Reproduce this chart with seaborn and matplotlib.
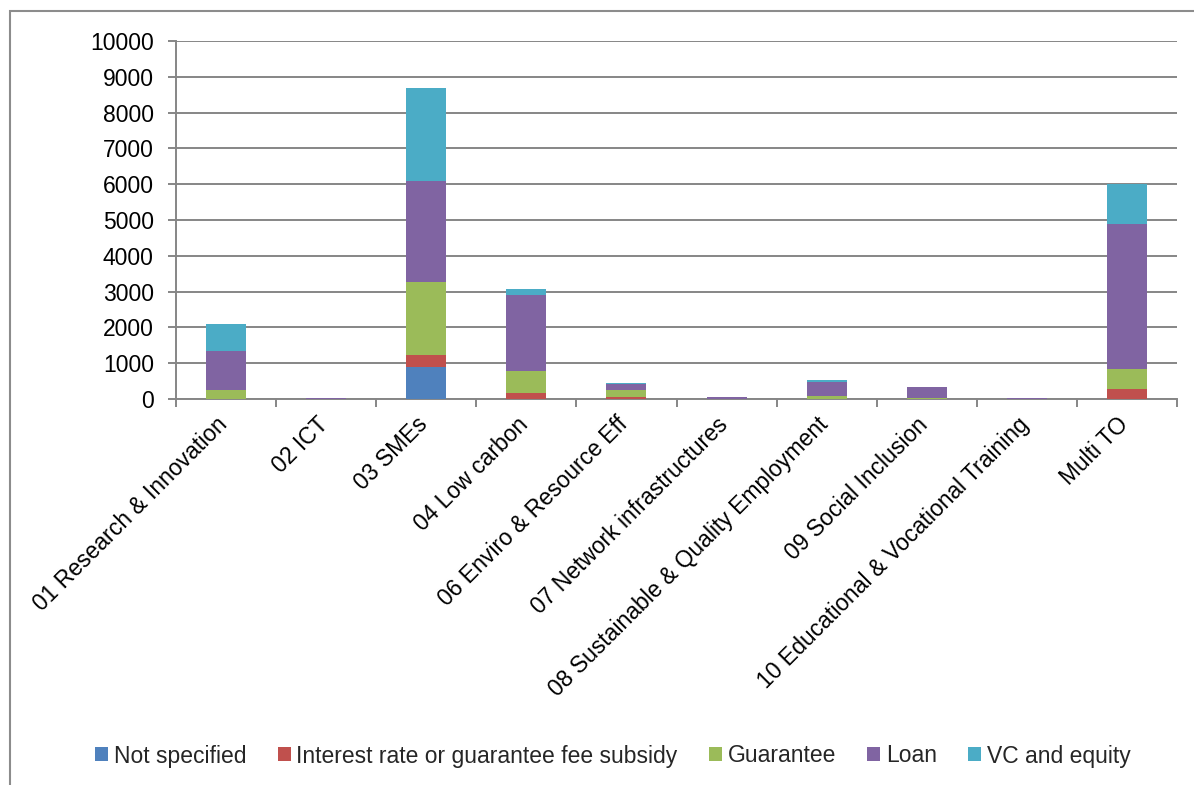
import matplotlib
matplotlib.use("Agg")
import matplotlib.pyplot as plt
import seaborn as sns
import pandas as pd
import numpy as np
from matplotlib.patches import Rectangle, Patch

categories = ["01 Research & Innovation", "02 ICT", "03 SMEs", "04 Low carbon",
              "06 Enviro & Resource Eff", "07 Network infrastructures",
              "08 Sustainable & Quality Employment", "09 Social Inclusion",
              "10 Educational & Vocational Training", "Multi TO"]
not_specified = [0, 0, 890, 0, 0, 0, 0, 0, 0, 0]
interest_subsidy = [0, 0, 340, 170, 50, 0, 0, 0, 0, 280]
guarantee = [265, 0, 2030, 600, 190, 0, 75, 40, 0, 570]
loan = [1080, 15, 2840, 2130, 170, 50, 395, 295, 15, 4040]
vc_equity = [755, 10, 2580, 170, 28, 0, 56, 10, 0, 1110]

series_names = ["Not specified", "Interest rate or guarantee fee subsidy",
                "Guarantee", "Loan", "VC and equity"]
series_values = [not_specified, interest_subsidy, guarantee, loan, vc_equity]
colors = ["#4F81BD", "#C0504D", "#9BBB59", "#8064A2", "#4BACC6"]

sns.set_theme(style="white")
plt.rcParams['font.family'] = ['Liberation Sans', 'DejaVu Sans']
FS = 16.5

fig = plt.figure(figsize=(11.94, 7.85), dpi=100)
ax = fig.add_axes([176/1194, 1 - 399/785, (1177-176)/1194, (399-41)/785])

cum = np.cumsum(np.array(series_values), axis=0)
df = pd.DataFrame({"category": categories})
# draw from top layer downward so lower layers overlay
for i in range(len(series_names) - 1, -1, -1):
    df["val"] = cum[i]
    sns.barplot(data=df, x="category", y="val", color=colors[i], width=0.4,
                saturation=1, ax=ax, order=categories, linewidth=0, zorder=3)

ax.set_ylim(0, 10000)
ax.set_xlim(-0.5, 9.5)
ax.set_yticks(np.arange(0, 10001, 1000))
ax.set_yticklabels([str(v) for v in range(0, 10001, 1000)], fontsize=FS, color="black")
# label anchors nudged slightly left of bar centres (tick marks hidden)
ax.set_xticks(np.arange(len(categories)) - 0.1)
ax.set_xticklabels(categories, rotation=45, ha="right", rotation_mode="anchor",
                   fontsize=FS, color="black")
ax.set_xlabel("")
ax.set_ylabel("")

grid_c = "#868686"
ax.yaxis.grid(True, color=grid_c, linewidth=1.4, zorder=0)
ax.set_axisbelow(True)
ax.xaxis.grid(False)
for s in ["top", "right"]:
    ax.spines[s].set_visible(False)
for s in ["left", "bottom"]:
    ax.spines[s].set_color(grid_c)
    ax.spines[s].set_linewidth(1.4)

ax.tick_params(axis="y", which="major", length=6, width=1.4, color=grid_c, pad=10, left=True)
ax.set_xticks(np.arange(-0.5, 10, 1), minor=True)
ax.tick_params(axis="x", which="major", length=0, pad=10)
ax.tick_params(axis="x", which="minor", length=6, width=1.4, color=grid_c, bottom=True)

# outer frame
fig.patches.append(Rectangle((10/1194, -0.05), 1.1, 1 - 11/785 + 0.05,
                             transform=fig.transFigure, fill=False,
                             edgecolor="#8c8c8c", linewidth=1.5))

handles = [Patch(facecolor=c, edgecolor="none") for c in colors]
fig.legend(handles, series_names, loc="center", bbox_to_anchor=(613/1194, 1 - 756/785),
           ncol=5, frameon=False, fontsize=FS, handlelength=0.55, handleheight=0.55,
           handletextpad=0.25, columnspacing=1.38, borderaxespad=0)

fig.savefig("out.png", dpi=100)
